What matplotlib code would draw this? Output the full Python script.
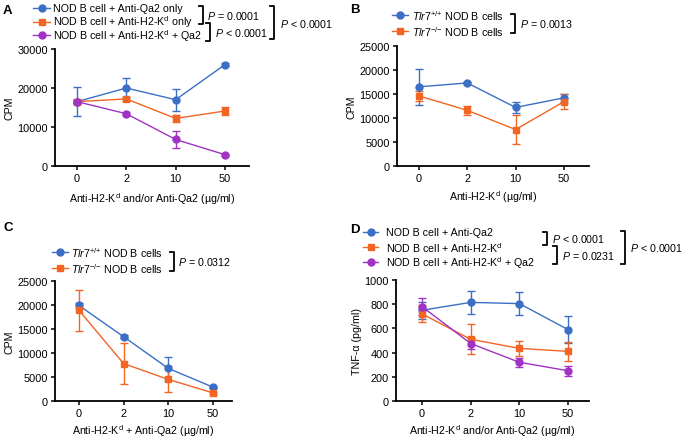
import matplotlib
matplotlib.use("Agg")
import matplotlib.pyplot as plt
from matplotlib.lines import Line2D

plt.rcParams['font.family'] = ['Liberation Sans', 'DejaVu Sans']
plt.rcParams['mathtext.fontset'] = 'custom'
plt.rcParams['mathtext.rm'] = 'Liberation Sans'
plt.rcParams['mathtext.it'] = 'Liberation Sans:italic'
plt.rcParams['mathtext.bf'] = 'Liberation Sans:bold'

W, H = 685, 439
BLUE = '#3b6fc6'
ORANGE = '#f26522'
PURPLE = '#a032c4'

doses = ['0', '2', '10', '50']

# Panel A
a_qa2 = [16500, 20000, 17000, 26000]
a_qa2_err = [3700, 2600, 2800, 300]
a_h2k = [16500, 17200, 12200, 14100]
a_h2k_err = [600, 600, 1000, 1000]
a_both = [16500, 13400, 6800, 2900]
a_both_err = [300, 400, 2300, 300]

# Panel B
b_wt = [16500, 17300, 12200, 14200]
b_wt_err = [3700, 300, 1200, 900]
b_ko = [14600, 11600, 7600, 13400]
b_ko_err = [1000, 1000, 3100, 1500]

# Panel C
c_wt = [19900, 13400, 6800, 2900]
c_wt_err = [600, 300, 2400, 200]
c_ko = [18900, 7800, 4500, 1700]
c_ko_err = [4300, 4300, 2700, 200]

# Panel D
d_qa2 = [750, 815, 805, 590]
d_qa2_err = [70, 95, 95, 110]
d_h2k = [720, 510, 435, 410]
d_h2k_err = [70, 125, 60, 80]
d_both = [780, 475, 320, 250]
d_both_err = [70, 45, 35, 40]

fig = plt.figure(figsize=(W / 100, H / 100), dpi=100)


def fx(x):
    return x / W


def fy(y):
    return 1 - y / H


def make_ax(l, r, t, b):
    return fig.add_axes([fx(l), fy(b), (r - l) / W, (b - t) / H])


FS = 7.7


def style(ax, xlim, ylim, yticks):
    ax.set_xlim(*xlim)
    ax.set_ylim(*ylim)
    ax.set_xticks(range(4))
    ax.set_xticklabels(doses)
    ax.set_yticks(yticks)
    ax.set_yticklabels([str(v) for v in yticks])
    for s in ['top', 'right']:
        ax.spines[s].set_visible(False)
    for s in ['left', 'bottom']:
        ax.spines[s].set_linewidth(1.3)
    ax.tick_params(direction='out', length=3, width=1.1, labelsize=FS + 0.2, pad=2)


def series(ax, y, err, color, marker):
    ax.errorbar(range(4), y, yerr=err, color=color, marker=marker, markersize=5,
                linewidth=1.0, elinewidth=1.0, capsize=3.2, capthick=1.0)


def legend_row(x0, x1, xt, y, color, marker, label):
    fig.add_artist(Line2D([fx(x0), fx(x1)], [fy(y), fy(y)], color=color, lw=1.0))
    fig.add_artist(Line2D([fx((x0 + x1) / 2)], [fy(y)], color=color, marker=marker,
                          markersize=5, lw=0))
    fig.text(fx(xt), fy(y), label, fontsize=FS, va='center', ha='left')


def bracket(x, y1, y2, text, tx):
    fig.add_artist(Line2D([fx(x - 4), fx(x), fx(x), fx(x - 4)],
                          [fy(y1), fy(y1), fy(y2), fy(y2)], color='black', lw=1.3))
    fig.text(fx(tx), fy((y1 + y2) / 2), text, fontsize=FS, va='center', ha='left')


KD = r'K$^{\mathrm{d}}$'
WT = r'$Tlr7^{{+}/{+}}$ NOD B cells'
KO = r'$Tlr7^{{-}/{-}}$ NOD B cells'

# ---------- Panel A ----------
axA = make_ax(55, 249, 50, 167)
series(axA, a_qa2, a_qa2_err, BLUE, 'o')
series(axA, a_h2k, a_h2k_err, ORANGE, 's')
series(axA, a_both, a_both_err, PURPLE, 'o')
style(axA, (-0.446, 3.487), (0, 30000), [0, 10000, 20000, 30000])
axA.set_ylabel('CPM', fontsize=FS, labelpad=2)
axA.set_xlabel('Anti-H2-' + KD + ' and/or Anti-Qa2 (µg/ml)', fontsize=FS, labelpad=5)
legend_row(33, 50, 53, 9, BLUE, 'o', 'NOD B cell + Anti-Qa2 only')
legend_row(33, 50, 53, 22.5, ORANGE, 's', 'NOD B cell + Anti-H2-' + KD + ' only')
legend_row(33, 50, 53, 36, PURPLE, 'o', 'NOD B cell + Anti-H2-' + KD + ' + Qa2')
bracket(203, 7, 25, r'$P$ = 0.0001', 207)
bracket(210, 24, 42, r'$P$ < 0.0001', 215)
bracket(274, 7, 40, r'$P$ < 0.0001', 280)
fig.text(fx(3), fy(11), 'A', fontsize=9.5, fontweight='bold', va='center', ha='left')

# ---------- Panel B ----------
axB = make_ax(397, 589, 47, 167)
series(axB, b_wt, b_wt_err, BLUE, 'o')
series(axB, b_ko, b_ko_err, ORANGE, 's')
style(axB, (-0.455, 3.52), (0, 25000), [0, 5000, 10000, 15000, 20000, 25000])
axB.set_ylabel('CPM', fontsize=FS, labelpad=2)
axB.set_xlabel('Anti-H2-' + KD + ' (µg/ml)', fontsize=FS, labelpad=4)
legend_row(392, 408, 412, 16, BLUE, 'o', WT)
legend_row(392, 408, 412, 32, ORANGE, 's', KO)
bracket(515, 15, 34, r'$P$ = 0.0013', 520)
fig.text(fx(350), fy(10), 'B', fontsize=9.5, fontweight='bold', va='center', ha='left')

# ---------- Panel C ----------
axC = make_ax(55, 232, 282, 402)
series(axC, c_wt, c_wt_err, BLUE, 'o')
series(axC, c_ko, c_ko_err, ORANGE, 's')
style(axC, (-0.537, 3.43), (0, 25000), [0, 5000, 10000, 15000, 20000, 25000])
axC.set_ylabel('CPM', fontsize=FS, labelpad=2)
axC.set_xlabel('Anti-H2-' + KD + ' + Anti-Qa2 (µg/ml)', fontsize=FS, labelpad=3)
legend_row(52, 68, 71, 253, BLUE, 'o', WT)
legend_row(52, 68, 71, 269, ORANGE, 's', KO)
bracket(174, 253, 272, r'$P$ = 0.0312', 178)
fig.text(fx(3), fy(228), 'C', fontsize=9.5, fontweight='bold', va='center', ha='left')

# ---------- Panel D ----------
axD = make_ax(396, 589, 281, 402)
series(axD, d_qa2, d_qa2_err, BLUE, 'o')
series(axD, d_h2k, d_h2k_err, ORANGE, 's')
series(axD, d_both, d_both_err, PURPLE, 'o')
style(axD, (-0.534, 3.43), (0, 1000), [0, 200, 400, 600, 800, 1000])
axD.set_ylabel('TNF-α (pg/ml)', fontsize=FS, labelpad=2)
axD.set_xlabel('Anti-H2-' + KD + ' and/or Anti-Qa2 (µg/ml)', fontsize=FS, labelpad=3)
legend_row(363, 378, 386, 233, BLUE, 'o', 'NOD B cell + Anti-Qa2')
legend_row(363, 378, 386, 248, ORANGE, 's', 'NOD B cell + Anti-H2-' + KD)
legend_row(363, 378, 386, 263, PURPLE, 'o', 'NOD B cell + Anti-H2-' + KD + ' + Qa2')
bracket(547, 233, 246, r'$P$ < 0.0001', 552)
bracket(557, 247, 265, r'$P$ = 0.0231', 562)
bracket(625, 232, 265, r'$P$ < 0.0001', 630)
fig.text(fx(350), fy(230), 'D', fontsize=9.5, fontweight='bold', va='center', ha='left')

fig.savefig('out.png', dpi=100)
